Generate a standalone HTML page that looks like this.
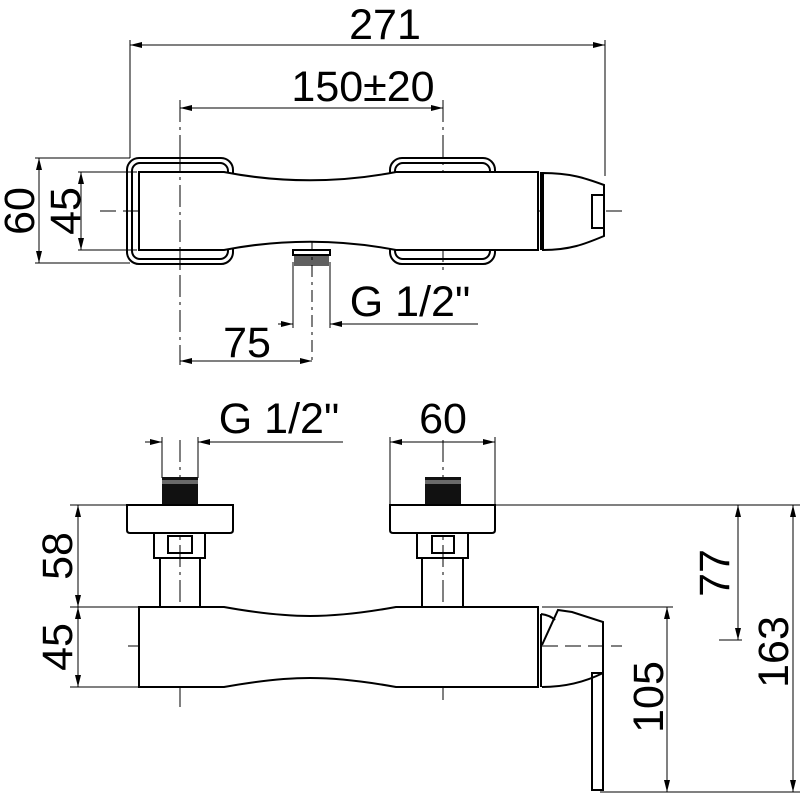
<!DOCTYPE html>
<html><head><meta charset="utf-8"><style>body{margin:0;background:#fff}svg{display:block}text{font-family:"Liberation Sans",sans-serif;font-size:43px;fill:#000}</style></head>
<body>
<svg width="800" height="800" viewBox="0 0 800 800" xmlns="http://www.w3.org/2000/svg">
<defs>
<marker id="a" viewBox="0 0 12 6" refX="12" refY="3" markerWidth="12" markerHeight="6" markerUnits="userSpaceOnUse" orient="auto-start-reverse"><path d="M0,0 L12,3 L0,6 Z" fill="#000"/></marker>
</defs>
<g stroke="#000" fill="none" stroke-width="1">
<line x1="130" y1="40" x2="130" y2="158"/><line x1="605" y1="40" x2="605" y2="176"/>
<line x1="130" y1="45" x2="605" y2="45" marker-start="url(#a)" marker-end="url(#a)"/>
<line x1="180" y1="108" x2="443" y2="108" marker-start="url(#a)" marker-end="url(#a)"/>
<line x1="180" y1="100" x2="180" y2="365" stroke-dasharray="22 5 3 5"/>
<line x1="443" y1="100" x2="443" y2="272" stroke-dasharray="22 5 3 5"/>
<line x1="100" y1="211" x2="625" y2="211" stroke-dasharray="16 7"/>
<line x1="35" y1="158" x2="130" y2="158"/><line x1="35" y1="263" x2="130" y2="263"/>
<line x1="78" y1="172" x2="137" y2="172"/><line x1="78" y1="250" x2="137" y2="250"/>
<line x1="39" y1="158" x2="39" y2="263" marker-start="url(#a)" marker-end="url(#a)"/>
<line x1="81" y1="172" x2="81" y2="250" marker-start="url(#a)" marker-end="url(#a)"/>
<line x1="180" y1="361" x2="312" y2="361" marker-start="url(#a)" marker-end="url(#a)"/>
<line x1="312" y1="240" x2="312" y2="365" stroke-dasharray="12 5 3 5"/>
<line x1="293" y1="262" x2="293" y2="328"/><line x1="330" y1="262" x2="330" y2="328"/>
<line x1="278" y1="324" x2="293" y2="324" marker-end="url(#a)"/>
<line x1="478" y1="324" x2="330" y2="324" marker-end="url(#a)"/>
</g>
<g stroke="#000" fill="none" stroke-width="2">
<rect x="127" y="158" width="106" height="106" rx="12"/>
<rect x="132" y="163" width="96" height="96" rx="8"/>
<rect x="390" y="158" width="105" height="106" rx="12"/>
<rect x="395" y="163" width="95" height="96" rx="8"/>
<path d="M139,172 L224,172 C280,183 340,183 396,172 L538,172 L538,250 L396,250 C340,239 280,239 224,250 L139,250 Z" fill="#fff"/>
<path d="M541,172 L541,250" />
<path d="M543,173 C570,173 585,178 604,185 L604,236 C585,244 570,250 543,250 Z" fill="#fff"/>
<rect x="592" y="195" width="12" height="33"/>
<rect x="293" y="250" width="37" height="5" fill="#fff"/>
</g>
<g stroke="#000" stroke-width="1.2">
<line x1="294" y1="257" x2="329" y2="257"/><line x1="294" y1="259" x2="329" y2="259"/><line x1="294" y1="261" x2="329" y2="261"/><line x1="294" y1="263" x2="329" y2="263"/><line x1="294" y1="265" x2="329" y2="265"/>
</g>
<line x1="180" y1="150" x2="180" y2="270" stroke="#000" stroke-dasharray="22 5 3 5"/>
<g stroke="#000" fill="none" stroke-width="1">
<line x1="162" y1="437" x2="162" y2="478"/><line x1="198" y1="437" x2="198" y2="478"/>
<line x1="145" y1="442" x2="162" y2="442" marker-end="url(#a)"/>
<line x1="343" y1="442" x2="198" y2="442" marker-end="url(#a)"/>
<line x1="390" y1="437" x2="390" y2="505"/><line x1="495" y1="437" x2="495" y2="505"/>
<line x1="390" y1="442" x2="495" y2="442" marker-start="url(#a)" marker-end="url(#a)"/>
<line x1="70" y1="505" x2="127" y2="505"/><line x1="70" y1="607" x2="139" y2="607"/><line x1="70" y1="687" x2="139" y2="687"/>
<line x1="78" y1="505" x2="78" y2="607" marker-start="url(#a)" marker-end="url(#a)"/>
<line x1="78" y1="607" x2="78" y2="687" marker-start="url(#a)" marker-end="url(#a)"/>
<line x1="495" y1="505" x2="800" y2="505"/>
<line x1="542" y1="607" x2="673" y2="607"/>
<line x1="600" y1="792" x2="800" y2="792"/>
<line x1="719" y1="640" x2="742" y2="640"/>
<line x1="738" y1="505" x2="738" y2="640" marker-start="url(#a)" marker-end="url(#a)"/>
<line x1="793" y1="505" x2="793" y2="792" marker-start="url(#a)" marker-end="url(#a)"/>
<line x1="667" y1="607" x2="667" y2="792" marker-start="url(#a)" marker-end="url(#a)"/>
<line x1="128" y1="646" x2="622" y2="646" stroke-dasharray="16 7"/>
<line x1="180" y1="440" x2="180" y2="708" stroke-dasharray="22 5 3 5"/>
<line x1="443" y1="440" x2="443" y2="700" stroke-dasharray="22 5 3 5"/>
</g>
<g stroke="#000" fill="none" stroke-width="2">
<rect x="162" y="477" width="36" height="28" fill="#111" stroke="none"/>
<rect x="425" y="477" width="36" height="28" fill="#111" stroke="none"/>
<path d="M127,505 L233,505 L233,530 Q233,533 230,533 L130,533 Q127,533 127,530 Z" fill="#fff"/>
<path d="M390,505 L495,505 L495,530 Q495,533 492,533 L393,533 Q390,533 390,530 Z" fill="#fff"/>
<rect x="154" y="533" width="51" height="25"/><rect x="168" y="536" width="24" height="17"/>
<rect x="417" y="533" width="51" height="25"/><rect x="432" y="536" width="22" height="17"/>
<rect x="160" y="558" width="40" height="49"/>
<rect x="422" y="558" width="41" height="49"/>
<path d="M139,607 L224,607 C290,619 330,619 396,607 L538,607 L538,687 L396,687 C330,675 290,675 224,687 L139,687 Z" fill="#fff"/>
<path d="M541,614 L541,687"/>
<path d="M541,614 C548,615 552,617 555,620"/>
<path d="M542,645 L558,610 L572,612 L603,622 L603,673 C585,682 565,687 542,687"/>
<rect x="592" y="673" width="11" height="117"/>
</g>
<g stroke="#fff" stroke-width="0.8">
<line x1="162" y1="481" x2="198" y2="481"/><line x1="162" y1="483" x2="198" y2="483"/>
<line x1="425" y1="481" x2="461" y2="481"/><line x1="425" y1="483" x2="461" y2="483"/>
</g>
<text x="385" y="39" text-anchor="middle">271</text>
<text x="363" y="101" text-anchor="middle">150±20</text>
<text x="247" y="357" text-anchor="middle">75</text>
<text x="410" y="316" text-anchor="middle">G 1/2"</text>
<text x="279" y="433" text-anchor="middle">G 1/2"</text>
<text x="443" y="433" text-anchor="middle">60</text>
<text transform="translate(34,211) rotate(-90)" text-anchor="middle">60</text>
<text transform="translate(80,211) rotate(-90)" text-anchor="middle">45</text>
<text transform="translate(72,556) rotate(-90)" text-anchor="middle">58</text>
<text transform="translate(72,647) rotate(-90)" text-anchor="middle">45</text>
<text transform="translate(729,573) rotate(-90)" text-anchor="middle">77</text>
<text transform="translate(788,652) rotate(-90)" text-anchor="middle">163</text>
<text transform="translate(663,697) rotate(-90)" text-anchor="middle">105</text>
</svg>
</body></html>
